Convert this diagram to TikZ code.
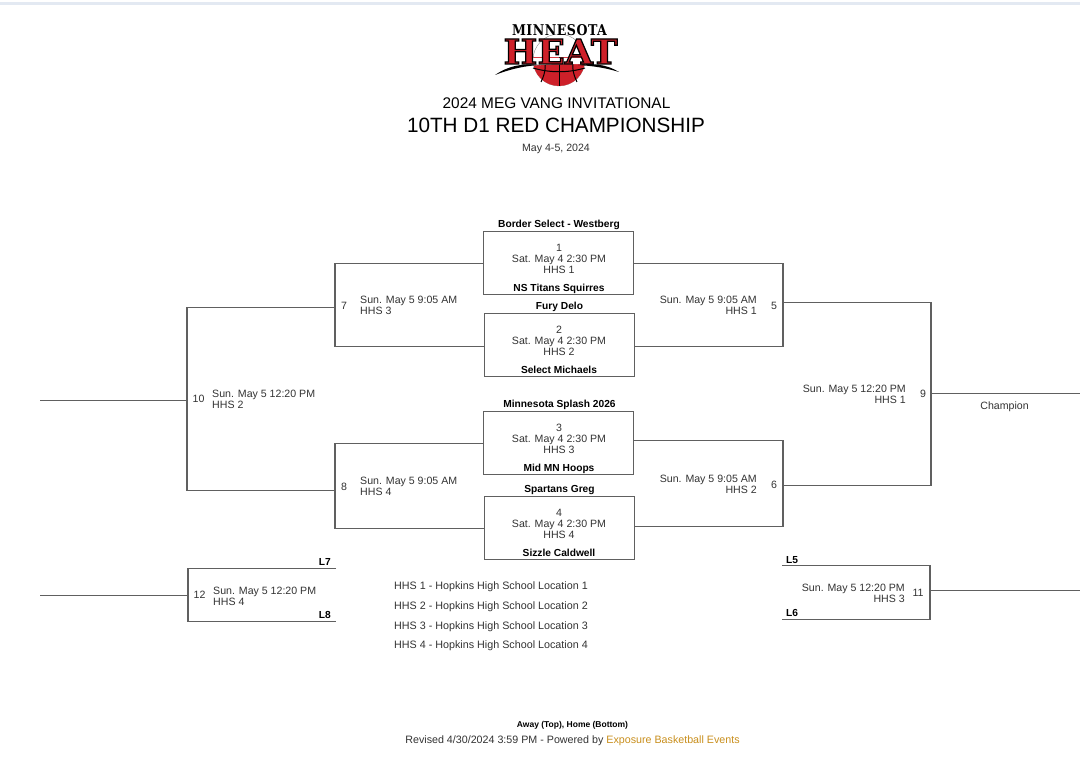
\documentclass[tikz,border=0pt]{standalone}
\usepackage{graphicx}
\usepackage{fontspec}
\setmainfont{Liberation Sans}
\newfontfamily\logofont[LetterSpace=4]{DejaVu Serif}
\newfontfamily\heatfont{DejaVu Serif}
\usepackage{xcolor}
\usetikzlibrary{positioning}

\definecolor{linegray}{HTML}{606060}
\definecolor{textgray}{HTML}{333333}
\definecolor{bandblue}{HTML}{E3E9F2}
\definecolor{heatred}{HTML}{CE2029}
\definecolor{linkgold}{HTML}{C98F1D}

\tikzset{
  bracket/.style={draw=linegray, line width=1.1pt},
  gamebox/.style={draw=linegray, line width=1.1pt, minimum width=150pt, minimum height=63pt, inner sep=0pt},
  small/.style={text=textgray, inner sep=0pt, align=center, yshift=-1pt, font=\fontsize{10.6}{11.2}\selectfont},
  smallleft/.style={small, anchor=west, align=left},
  smallright/.style={small, anchor=east, align=right},
  location/.style={smallleft, font=\fontsize{10.75}{11.2}\selectfont},
  team/.style={text=black, inner sep=0pt, yshift=-1pt, font=\fontsize{10.2}{11}\selectfont\bfseries},
}

\begin{document}
\begin{tikzpicture}[x=1pt,y=-1pt]
    \useasboundingbox (0,0) rectangle (1080,783);
    \fill[white] (0,0) rectangle (1080,783);
    \fill[bandblue] (0,2) rectangle (1080,5);

    % logo
    \draw[black!45, line width=0.4pt] (559,60) circle (26);
    \begin{scope}
        \clip (500,58) rectangle (620,90);
        \fill[heatred] (559,60) circle (26);
        \draw[black, line width=1pt] (559,34) -- (559,86);
        \draw[black, line width=1pt] (533,68) .. controls (550,73) and (568,73) .. (585,68);
        \draw[black, line width=1pt] (541,82) .. controls (546,72) and (546,64) .. (544,58);
        \draw[black, line width=1pt] (577,82) .. controls (572,72) and (572,64) .. (574,58);
        \fill[white] (500,58) -- (620,58) -- (620,66) .. controls (590,63) and (530,63) .. (500,70) -- cycle;
    \end{scope}
    \fill[black] (495,75) .. controls (508,66) and (522,63) .. (540,65) .. controls (522,66) and (508,70) .. (495,75);
    \fill[black] (619,72) .. controls (606,64) and (592,63) .. (578,65) .. controls (594,66) and (606,68) .. (619,72);
    \node (logotop) [inner sep=0pt] at (559.5,30.5) {\resizebox{95pt}{11pt}{\logofont\bfseries MINNESOTA}};
    \node (logoheat) [inner sep=0pt, text=heatred] at (560.5,51.5) {\resizebox{114pt}{25pt}{\heatfont\bfseries\special{pdf:code 2 Tr 0.35 w 0 0 0 RG}HEAT\special{pdf:code 0 Tr}}};

    % titles
    \node (subtitle) [text=black, inner sep=0pt, font=\fontsize{15.4}{18}\selectfont] at (556.5,103.5) {2024 MEG VANG INVITATIONAL};
    \node (title) [text=black, inner sep=0pt, font=\fontsize{20.7}{24}\selectfont] at (556,125.5) {10TH D1 RED CHAMPIONSHIP};
    \node (dates) [small] at (556,147.5) {May 4-5, 2024};

    % first round
    \node (box1) [gamebox] at (558.7,263) {};
    \node (box2) [gamebox] at (559.2,345) {};
    \node (box3) [gamebox] at (558.7,443) {};
    \node (box4) [gamebox] at (559.2,528) {};
    \node (info1) [small] at (559,257.7) {1\\Sat. May 4 2:30 PM\\HHS 1};
    \node (info2) [small] at (559,339.7) {2\\Sat. May 4 2:30 PM\\HHS 2};
    \node (info3) [small] at (559,437.7) {3\\Sat. May 4 2:30 PM\\HHS 3};
    \node (info4) [small] at (559,522.7) {4\\Sat. May 4 2:30 PM\\HHS 4};
    \node (team1a) [team] at (559,224) {Border Select - Westberg};
    \node (team1b) [team] at (559,287.5) {NS Titans Squirres};
    \node (team2a) [team] at (559.5,305.5) {Fury Delo};
    \node (team2b) [team] at (559,369) {Select Michaels};
    \node (team3a) [team] at (559.5,403.5) {Minnesota Splash 2026};
    \node (team3b) [team] at (559,467.5) {Mid MN Hoops};
    \node (team4a) [team] at (559.5,489.2) {Spartans Greg};
    \node (team4b) [team] at (559,552.2) {Sizzle Caldwell};

    % bracket corners
    \coordinate (c7a) at (335,263.5);
    \coordinate (c7b) at (335,346.5);
    \coordinate (c8a) at (335,443.5);
    \coordinate (c8b) at (335,528.5);
    \coordinate (c5a) at (783,263.5);
    \coordinate (c5b) at (783,346.5);
    \coordinate (c6a) at (783,440.5);
    \coordinate (c6b) at (783,526.5);
    \coordinate (c7m) at (335,307.5);
    \coordinate (c8m) at (335,490.5);
    \coordinate (c5m) at (783,302.5);
    \coordinate (c6m) at (783,485.5);
    \coordinate (c10a) at (187,307.5);
    \coordinate (c10b) at (187,490.5);
    \coordinate (c9a) at (931,302.5);
    \coordinate (c9b) at (931,485.5);
    \coordinate (c10m) at (187,400.5);
    \coordinate (c9m) at (931,393.5);
    \coordinate (out10) at (40,400.5);
    \coordinate (out9) at (1080,393.5);

    \draw[bracket] (box1.west |- c7a) -- (c7a) -- (c7b) -- (box2.west |- c7b);
    \draw[bracket] (box3.west |- c8a) -- (c8a) -- (c8b) -- (box4.west |- c8b);
    \draw[bracket] (box1.east |- c5a) -- (c5a) -- (c5b) -- (box2.east |- c5b);
    \draw[bracket] (box3.east |- c6a) -- (c6a) -- (c6b) -- (box4.east |- c6b);
    \draw[bracket] (c7m) -- (c10a) -- (c10b) -- (c8m);
    \draw[bracket] (c5m) -- (c9a) -- (c9b) -- (c6m);
    \draw[bracket] (c10m) -- (out10);
    \draw[bracket] (c9m) -- (out9);

    % third place games
    \coordinate (c12a) at (188,568.5);
    \coordinate (c12b) at (188,621.5);
    \coordinate (c12m) at (188,595.5);
    \coordinate (end12a) at (336,568.5);
    \coordinate (end12b) at (336,621.5);
    \coordinate (out12) at (40,595.5);
    \coordinate (c11a) at (930,565.5);
    \coordinate (c11b) at (930,619.5);
    \coordinate (c11m) at (930,590.5);
    \coordinate (end11a) at (782,565.5);
    \coordinate (end11b) at (782,619.5);
    \coordinate (out11) at (1080,590.5);
    \draw[bracket] (end12a) -- (c12a) -- (c12b) -- (end12b);
    \draw[bracket] (end11a) -- (c11a) -- (c11b) -- (end11b);
    \draw[bracket] (c12m) -- (out12);
    \draw[bracket] (c11m) -- (out11);

    % game numbers
    \node (num7) [small] at (344,304.5) {7};
    \node (num8) [small] at (344,485.5) {8};
    \node (num5) [small] at (774,304.5) {5};
    \node (num6) [small] at (774,484) {6};
    \node (num10) [small] at (198.5,398) {10};
    \node (num9) [small] at (923,393) {9};
    \node (num12) [small] at (199.5,594) {12};
    \node (num11) [small] at (918,592) {11};

    % game times
    \node (time7) [smallleft] at (360,304.5) {Sun. May 5 9:05 AM\\HHS 3};
    \node (time8) [smallleft] at (360,485.5) {Sun. May 5 9:05 AM\\HHS 4};
    \node (time5) [smallright] at (757,304.5) {Sun. May 5 9:05 AM\\HHS 1};
    \node (time6) [smallright] at (757,483.5) {Sun. May 5 9:05 AM\\HHS 2};
    \node (time10) [smallleft] at (212,398.5) {Sun. May 5 12:20 PM\\HHS 2};
    \node (time9) [smallright] at (906,393.5) {Sun. May 5 12:20 PM\\HHS 1};
    \node (time12) [smallleft] at (213,595) {Sun. May 5 12:20 PM\\HHS 4};
    \node (time11) [smallright] at (905,592.5) {Sun. May 5 12:20 PM\\HHS 3};
    \node (champ) [small] at (1004.5,406) {Champion};

    % losers
    \node (l7) [team, anchor=east] at (331,561) {L7};
    \node (l8) [team, anchor=east] at (331,613.5) {L8};
    \node (l5) [team, anchor=west] at (786,559) {L5};
    \node (l6) [team, anchor=west] at (786,611.5) {L6};

    % locations
    \node (loc1) [location] at (394,586) {HHS 1 - Hopkins High School Location 1};
    \node (loc2) [location] at (394,605.5) {HHS 2 - Hopkins High School Location 2};
    \node (loc3) [location] at (394,625.5) {HHS 3 - Hopkins High School Location 3};
    \node (loc4) [location] at (394,644.5) {HHS 4 - Hopkins High School Location 4};

    % footer
    \node (away) [team, font=\fontsize{8.5}{10}\selectfont\bfseries] at (572.5,724) {Away (Top), Home (Bottom)};
    \node (revised) [small, font=\fontsize{10.7}{11.2}\selectfont] at (572.5,740) {Revised 4/30/2024 3:59 PM - Powered by \textcolor{linkgold}{Exposure Basketball Events}};
\end{tikzpicture}
\end{document}
